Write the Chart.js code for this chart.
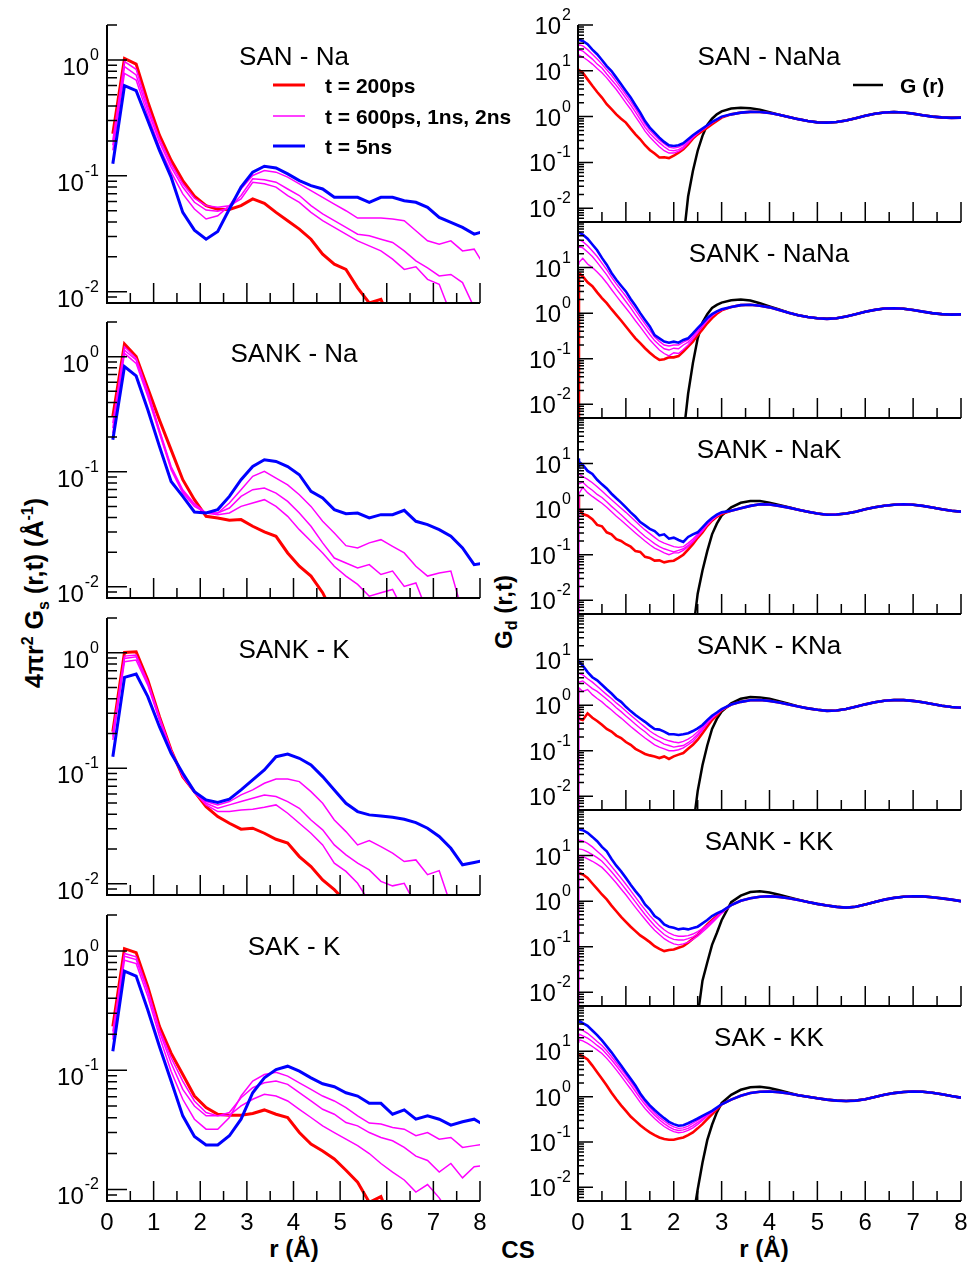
<!DOCTYPE html>
<html>
<head>
<meta charset="utf-8">
<title>CS</title>
<script src="https://cdn.jsdelivr.net/npm/chart.js@4.4.1/dist/chart.umd.min.js"></script>
<style>
  body { margin: 0; background: #fff; }
  #fig { position: relative; width: 972px; height: 1264px; overflow: hidden; background: #fff; }
  #fig canvas { position: absolute; }
  .axt { position: absolute; font: bold 24px "Liberation Sans", Arial, sans-serif; white-space: nowrap; transform: translate(-50%, -50%); line-height: 1; }
  .axt.rot { transform: translate(-50%, -50%) rotate(-90deg); }
  .axt.big { font-size: 25px; }
  .axt sup, .axt sub { font-size: 16px; }
</style>
</head>
<body>
<div id="fig">
  <div class="axt rot big" style="left:36px; top:593px">4&pi;r<sup>2</sup> G<sub>s</sub> (r,t) (&Aring;<sup>-1</sup>)</div>
  <div class="axt rot" style="left:506px; top:612px">G<sub>d</sub> (r,t)</div>
  <div class="axt" style="left:294px; top:1249px">r (&Aring;)</div>
  <div class="axt" style="left:518px; top:1250px">CS</div>
  <div class="axt" style="left:764px; top:1249px">r (&Aring;)</div>
</div>
<script>
// r grids (Å)
const rLeft = [0.125, 0.375, 0.625, 0.875, 1.125, 1.375, 1.625, 1.875, 2.125, 2.375, 2.625, 2.875, 3.125, 3.375, 3.625, 3.875,
  4.125, 4.375, 4.625, 4.875, 5.125, 5.375, 5.625, 5.875, 6.125, 6.375, 6.625, 6.875, 7.125, 7.375, 7.625, 7.875, 8.125];
const rHead = [0, 0.02, 0.1, 0.2, 0.3, 0.4, 0.5, 0.6, 0.7, 0.8, 0.9, 1.0, 1.1, 1.2, 1.3, 1.4, 1.5, 1.6, 1.7, 1.8, 1.9,
  2.0, 2.1, 2.2, 2.3, 2.4, 2.5, 2.6, 2.7, 2.8, 2.9, 3.0];
const rTail = [3.2, 3.4, 3.6, 3.8, 4.0, 4.2, 4.4, 4.6, 4.8, 5.0, 5.2, 5.4, 5.6, 5.8, 6.0, 6.2, 6.4, 6.6, 6.8, 7.0, 7.2, 7.4, 7.6, 7.8, 8.0];

// ---- 4 pi r^2 Gs(r,t) (left column) ----
const sanNa_200ps = [0.231, 1.03, 0.92, 0.435, 0.224, 0.136, 0.091, 0.0667, 0.0553, 0.0514, 0.0513, 0.0553, 0.0632, 0.058, 0.0484, 0.041, 0.0347, 0.0284, 0.0211, 0.0173, 0.0156, 0.0108, 0.008, 0.0086, 0.005, null, null, null, null, null, null, null, null];
const sanNa_600ps = [0.202, 0.967, 0.83, 0.394, 0.209, 0.127, 0.0853, 0.064, 0.0553, 0.0535, 0.0553, 0.0632, 0.0881, 0.0853, 0.080, 0.0676, 0.0591, 0.0484, 0.041, 0.0359, 0.0314, 0.0275, 0.0249, 0.0225, 0.0191, 0.0156, 0.0164, 0.0128, 0.0116, 0.0064, null, null, null];
const sanNa_1ns = [0.183, 0.875, 0.741, 0.368, 0.196, 0.119, 0.080, 0.0591, 0.0507, 0.0494, 0.0528, 0.0676, 0.0942, 0.0923, 0.0881, 0.077, 0.0676, 0.0553, 0.0469, 0.041, 0.0359, 0.0314, 0.0304, 0.0284, 0.0266, 0.0225, 0.0185, 0.0161, 0.0137, 0.0141, 0.012, 0.0073, null];
const sanNa_2ns = [0.166, 0.766, 0.671, 0.334, 0.177, 0.1076, 0.0698, 0.0518, 0.0424, 0.0453, 0.0553, 0.077, 0.1007, 0.111, 0.1076, 0.0974, 0.0853, 0.0746, 0.0653, 0.057, 0.050, 0.0432, 0.0432, 0.0432, 0.0424, 0.041, 0.0336, 0.0275, 0.0257, 0.0275, 0.0225, 0.0233, 0.016];
const sanNa_5ns = [0.127, 0.599, 0.542, 0.30, 0.166, 0.0974, 0.0484, 0.034, 0.0284, 0.0331, 0.0518, 0.080, 0.1076, 0.121, 0.117, 0.104, 0.091, 0.0824, 0.077, 0.0653, 0.0653, 0.0653, 0.0591, 0.0653, 0.0653, 0.061, 0.0591, 0.0535, 0.0438, 0.0397, 0.0359, 0.0314, 0.0336];

const sankNa_200ps = [0.302, 1.288, 1.0, 0.531, 0.282, 0.155, 0.0853, 0.0572, 0.041, 0.0397, 0.0379, 0.0384, 0.0336, 0.030, 0.0275, 0.0197, 0.0151, 0.0124, 0.0089, 0.0056, null, null, null, null, null, null, null, null, null, null, null, null, null];
const sankNa_600ps = [0.264, 1.22, 0.967, 0.497, 0.231, 0.111, 0.0698, 0.0528, 0.0438, 0.0424, 0.0438, 0.050, 0.0535, 0.0572, 0.050, 0.041, 0.0314, 0.0249, 0.0197, 0.0151, 0.0124, 0.0105, 0.0083, 0.0089, 0.0095, 0.006, null, null, null, null, null, null, null];
const sankNa_1ns = [0.239, 1.14, 0.936, 0.481, 0.224, 0.1076, 0.0676, 0.0518, 0.0438, 0.0438, 0.0484, 0.0611, 0.0698, 0.0722, 0.0653, 0.0553, 0.0438, 0.0336, 0.0241, 0.0178, 0.0161, 0.0146, 0.0156, 0.0128, 0.0137, 0.0101, 0.0108, 0.006, null, null, null, null, null];
const sankNa_2ns = [0.216, 1.069, 0.875, 0.45, 0.216, 0.104, 0.0653, 0.050, 0.0438, 0.0438, 0.0535, 0.0698, 0.0912, 0.1007, 0.0881, 0.077, 0.0632, 0.050, 0.0371, 0.0294, 0.0228, 0.0218, 0.0241, 0.0257, 0.0225, 0.0197, 0.0151, 0.0124, 0.0132, 0.0137, 0.006, null, null];
const sankNa_5ns = [0.1895, 0.819, 0.68, 0.345, 0.166, 0.0824, 0.0611, 0.0447, 0.0438, 0.0469, 0.0611, 0.0853, 0.111, 0.127, 0.123, 0.111, 0.0942, 0.0676, 0.0591, 0.0469, 0.0432, 0.0438, 0.0397, 0.0424, 0.0424, 0.0462, 0.0371, 0.0347, 0.0314, 0.0275, 0.0218, 0.0156, 0.0161];

const sankK_200ps = [0.2075, 1.007, 1.02, 0.58, 0.28, 0.144, 0.0847, 0.0628, 0.0466, 0.0382, 0.0334, 0.0297, 0.0303, 0.0274, 0.0243, 0.0225, 0.0172, 0.0141, 0.0108, 0.0089, 0.007, null, null, null, null, null, null, null, null, null, null, null, null];
const sankK_600ps = [0.201, 0.936, 0.955, 0.562, 0.276, 0.144, 0.0847, 0.062, 0.0482, 0.0422, 0.0422, 0.0436, 0.0442, 0.046, 0.0482, 0.0408, 0.0334, 0.0274, 0.0217, 0.0151, 0.0128, 0.0101, 0.007, null, null, null, null, null, null, null, null, null, null];
const sankK_1ns = [0.188, 0.893, 0.923, 0.543, 0.271, 0.142, 0.0864, 0.062, 0.0498, 0.0451, 0.0482, 0.0515, 0.055, 0.0588, 0.0569, 0.0515, 0.0451, 0.0357, 0.0293, 0.0217, 0.0178, 0.0151, 0.0132, 0.0105, 0.0096, 0.0101, 0.0065, null, null, null, null, null, null];
const sankK_2ns = [0.176, 0.836, 0.864, 0.525, 0.262, 0.139, 0.0875, 0.0616, 0.0515, 0.0482, 0.0515, 0.0588, 0.065, 0.0742, 0.0809, 0.0806, 0.0767, 0.0628, 0.0498, 0.0357, 0.0283, 0.0217, 0.0237, 0.021, 0.0184, 0.0156, 0.0161, 0.012, 0.013, 0.0065, null, null, null];
const sankK_5ns = [0.126, 0.612, 0.654, 0.417, 0.229, 0.135, 0.0905, 0.0628, 0.0532, 0.0505, 0.054, 0.065, 0.0793, 0.0968, 0.126, 0.133, 0.122, 0.107, 0.0847, 0.065, 0.0498, 0.0422, 0.0395, 0.0387, 0.0377, 0.0362, 0.0339, 0.0303, 0.0257, 0.0203, 0.0146, 0.0153, 0.0161];

const sakK_200ps = [0.233, 1.045, 0.968, 0.50, 0.233, 0.139, 0.092, 0.0607, 0.0485, 0.0427, 0.0419, 0.0419, 0.0433, 0.0464, 0.0427, 0.0401, 0.030, 0.024, 0.021, 0.018, 0.0145, 0.0115, 0.0078, 0.0087, 0.005, null, null, null, null, null, null, null, null];
const sakK_600ps = [0.211, 0.95, 0.891, 0.47, 0.218, 0.127, 0.081, 0.0552, 0.0441, 0.0414, 0.0419, 0.0501, 0.057, 0.0627, 0.0607, 0.0552, 0.047, 0.0401, 0.0341, 0.030, 0.0264, 0.0233, 0.020, 0.0165, 0.014, 0.012, 0.0095, 0.011, 0.0085, 0.006, null, null, null];
const sakK_1ns = [0.192, 0.903, 0.847, 0.455, 0.211, 0.115, 0.069, 0.0501, 0.0414, 0.0414, 0.0441, 0.0588, 0.0713, 0.0784, 0.081, 0.076, 0.0647, 0.0552, 0.047, 0.0427, 0.0364, 0.0341, 0.030, 0.0273, 0.0256, 0.0225, 0.019, 0.0175, 0.014, 0.0165, 0.0125, 0.0155, 0.016];
const sakK_2ns = [0.18, 0.836, 0.784, 0.414, 0.192, 0.098, 0.057, 0.0388, 0.032, 0.032, 0.0401, 0.0607, 0.081, 0.092, 0.0962, 0.0891, 0.0784, 0.069, 0.0607, 0.0552, 0.0485, 0.0414, 0.036, 0.0353, 0.0331, 0.032, 0.0282, 0.030, 0.0264, 0.0273, 0.0225, 0.0233, 0.024];
const sakK_5ns = [0.144, 0.677, 0.615, 0.32, 0.158, 0.081, 0.0414, 0.0278, 0.0236, 0.0236, 0.0282, 0.0388, 0.0647, 0.0863, 0.1013, 0.108, 0.098, 0.0863, 0.0769, 0.0726, 0.0647, 0.0607, 0.0527, 0.0527, 0.0427, 0.0464, 0.0388, 0.0414, 0.0388, 0.0346, 0.0369, 0.0388, 0.034];

// ---- Gd(r,t) (right column): head on rHead, common tail on rTail, G(r) separately ----
const sanNaNa_200ps = [10.8, 10.8, 9.1, 6.5, 4.7, 3.45, 2.6, 1.86, 1.45, 1.12, 0.90, 0.74, 0.547, 0.41, 0.32, 0.237, 0.187, 0.156, 0.128, 0.13, 0.124, 0.14, 0.164, 0.194, 0.249, 0.331, 0.41, 0.486, 0.575, 0.68, 0.80, 0.95];
const sanNaNa_600ps = [20, 22, 20, 17, 14, 11.2, 9.1, 7.0, 5.2, 3.9, 2.8, 2.0, 1.45, 1.0, 0.7, 0.48, 0.36, 0.28, 0.22, 0.18, 0.16, 0.16, 0.175, 0.205, 0.265, 0.345, 0.43, 0.515, 0.61, 0.73, 0.85, 0.98];
const sanNaNa_1ns = [28, 29, 27, 22, 18, 14, 11.5, 8.5, 6.4, 4.8, 3.5, 2.5, 1.8, 1.25, 0.86, 0.58, 0.43, 0.335, 0.27, 0.22, 0.185, 0.18, 0.19, 0.22, 0.28, 0.355, 0.44, 0.525, 0.625, 0.745, 0.86, 0.99];
const sanNaNa_2ns = [36, 37, 35, 29, 23, 18, 14, 10.5, 8.0, 5.8, 4.2, 3.0, 2.15, 1.5, 1.03, 0.69, 0.5, 0.39, 0.31, 0.255, 0.215, 0.205, 0.215, 0.24, 0.3, 0.37, 0.45, 0.535, 0.635, 0.755, 0.87, 1.0];
const sanNaNa_5ns = [48, 48, 45, 38, 29, 23, 17.2, 12.7, 9.9, 7.1, 5.1, 3.63, 2.6, 1.77, 1.22, 0.80, 0.575, 0.448, 0.348, 0.28, 0.237, 0.229, 0.237, 0.262, 0.32, 0.392, 0.463, 0.547, 0.647, 0.765, 0.875, 1.0];
const sanNaNa_tail = [1.12, 1.22, 1.27, 1.26, 1.2, 1.1, 0.98, 0.88, 0.8, 0.75, 0.74, 0.76, 0.82, 0.92, 1.04, 1.15, 1.23, 1.26, 1.23, 1.16, 1.07, 1.0, 0.96, 0.94, 0.95];
const sanNaNa_grHead = [0.002, 0.018, 0.065, 0.18, 0.38, 0.66, 0.9, 1.12, 1.3];
const sanNaNa_grTail = [1.5, 1.57, 1.53, 1.42, 1.25, 1.1, 0.98, 0.88, 0.8, 0.75, 0.74, 0.76, 0.82, 0.92, 1.04, 1.15, 1.23, 1.26, 1.23, 1.16, 1.07, 1.0, 0.96, 0.94, 0.95];

const sankNaNa_200ps = [0.001, 7.6, 6.4, 4.75, 3.9, 2.86, 2.14, 1.66, 1.22, 0.92, 0.69, 0.51, 0.375, 0.28, 0.22, 0.17, 0.135, 0.11, 0.094, 0.097, 0.107, 0.107, 0.114, 0.143, 0.184, 0.237, 0.33, 0.44, 0.60, 0.78, 0.97, 1.15];
const sankNaNa_600ps = [12, 13, 16, 12, 10, 8.0, 6.2, 4.6, 3.3, 2.4, 1.75, 1.3, 0.95, 0.68, 0.5, 0.36, 0.26, 0.2, 0.155, 0.13, 0.115, 0.135, 0.13, 0.16, 0.2, 0.27, 0.37, 0.5, 0.68, 0.87, 1.04, 1.17];
const sankNaNa_1ns = [28, 29, 27, 22, 17.5, 13, 9.5, 6.9, 4.8, 3.4, 2.5, 1.8, 1.3, 0.92, 0.65, 0.47, 0.34, 0.25, 0.2, 0.165, 0.155, 0.17, 0.165, 0.2, 0.23, 0.3, 0.41, 0.54, 0.72, 0.9, 1.06, 1.19];
const sankNaNa_2ns = [40, 41, 37, 30, 23, 17.5, 12.5, 9.0, 6.2, 4.4, 3.2, 2.35, 1.65, 1.17, 0.82, 0.58, 0.42, 0.3, 0.24, 0.2, 0.19, 0.2, 0.2, 0.23, 0.26, 0.33, 0.44, 0.57, 0.75, 0.93, 1.08, 1.2];
const sankNaNa_5ns = [60, 60, 53, 43, 32, 24, 16.3, 11.6, 7.6, 5.4, 4.0, 3.0, 2.04, 1.45, 1.0, 0.71, 0.51, 0.33, 0.28, 0.237, 0.225, 0.237, 0.225, 0.258, 0.28, 0.36, 0.47, 0.60, 0.78, 0.95, 1.09, 1.22];
const sankNaNa_tail = [1.36, 1.5, 1.53, 1.45, 1.34, 1.17, 1.02, 0.9, 0.82, 0.77, 0.75, 0.77, 0.84, 0.95, 1.07, 1.18, 1.26, 1.28, 1.25, 1.17, 1.08, 1.0, 0.95, 0.93, 0.94];
const sankNaNa_grHead = [0.002, 0.017, 0.08, 0.28, 0.62, 0.95, 1.3, 1.52, 1.7];
const sankNaNa_grTail = [1.92, 1.98, 1.9, 1.65, 1.4, 1.2, 1.02, 0.9, 0.82, 0.77, 0.75, 0.77, 0.84, 0.95, 1.07, 1.18, 1.26, 1.28, 1.25, 1.17, 1.08, 1.0, 0.95, 0.93, 0.94];

const sankNaK_200ps = [2.0, 1.0, 0.78, 0.72, 0.6, 0.45, 0.42, 0.31, 0.28, 0.22, 0.2, 0.17, 0.15, 0.12, 0.115, 0.09, 0.085, 0.074, 0.075, 0.068, 0.072, 0.074, 0.085, 0.1, 0.13, 0.17, 0.235, 0.31, 0.43, 0.56, 0.68, 0.78];
const sankNaK_600ps = [0.001, 2.2, 3.0, 2.3, 1.9, 1.6, 1.35, 1.1, 0.88, 0.7, 0.57, 0.46, 0.37, 0.3, 0.245, 0.2, 0.165, 0.14, 0.125, 0.11, 0.1, 0.11, 0.11, 0.125, 0.15, 0.19, 0.25, 0.33, 0.45, 0.58, 0.7, 0.81];
const sankNaK_1ns = [3.5, 3.5, 3.9, 3.1, 2.6, 2.1, 1.8, 1.45, 1.15, 0.93, 0.75, 0.6, 0.48, 0.39, 0.31, 0.25, 0.21, 0.175, 0.15, 0.135, 0.125, 0.115, 0.125, 0.135, 0.16, 0.2, 0.26, 0.34, 0.46, 0.59, 0.71, 0.82];
const sankNaK_2ns = [6.0, 6.0, 5.2, 4.5, 3.8, 3.1, 2.5, 2.0, 1.6, 1.3, 1.05, 0.85, 0.68, 0.54, 0.43, 0.35, 0.29, 0.24, 0.2, 0.18, 0.165, 0.15, 0.145, 0.15, 0.18, 0.22, 0.28, 0.36, 0.47, 0.6, 0.72, 0.83];
const sankNaK_5ns = [13, 11, 9.4, 6.9, 5.9, 4.4, 3.5, 2.84, 2.18, 1.73, 1.39, 1.09, 0.85, 0.68, 0.52, 0.44, 0.37, 0.33, 0.265, 0.28, 0.225, 0.237, 0.21, 0.19, 0.245, 0.28, 0.31, 0.40, 0.52, 0.64, 0.755, 0.85];
const sankNaK_tail = [0.92, 1.05, 1.18, 1.28, 1.26, 1.18, 1.08, 0.97, 0.88, 0.8, 0.755, 0.76, 0.8, 0.88, 0.99, 1.1, 1.19, 1.25, 1.28, 1.25, 1.18, 1.09, 0.99, 0.92, 0.88];
const sankNaK_grHead = [0.002, 0.014, 0.045, 0.12, 0.28, 0.48, 0.72];
const sankNaK_grTail = [1.1, 1.38, 1.5, 1.5, 1.39, 1.24, 1.1, 0.97, 0.88, 0.8, 0.755, 0.76, 0.8, 0.88, 0.99, 1.1, 1.19, 1.25, 1.28, 1.25, 1.18, 1.09, 0.99, 0.92, 0.88];

const sankKNa_200ps = [0.85, 0.5, 0.47, 0.66, 0.53, 0.45, 0.37, 0.30, 0.263, 0.215, 0.19, 0.155, 0.135, 0.11, 0.097, 0.085, 0.079, 0.075, 0.069, 0.075, 0.066, 0.075, 0.082, 0.089, 0.11, 0.135, 0.174, 0.242, 0.338, 0.47, 0.6, 0.78];
const sankKNa_600ps = [0.001, 2.4, 2.0, 2.2, 1.7, 1.4, 1.18, 0.95, 0.78, 0.63, 0.52, 0.42, 0.34, 0.28, 0.23, 0.19, 0.16, 0.135, 0.12, 0.11, 0.1, 0.1, 0.105, 0.115, 0.135, 0.16, 0.21, 0.28, 0.39, 0.51, 0.63, 0.78];
const sankKNa_1ns = [3.0, 3.2, 3.4, 2.8, 2.3, 2.0, 1.65, 1.35, 1.1, 0.88, 0.72, 0.58, 0.47, 0.38, 0.31, 0.26, 0.21, 0.18, 0.16, 0.14, 0.13, 0.12, 0.125, 0.13, 0.15, 0.18, 0.23, 0.3, 0.41, 0.53, 0.65, 0.79];
const sankKNa_2ns = [5.0, 5.0, 4.6, 3.8, 3.2, 2.6, 2.1, 1.7, 1.4, 1.12, 0.92, 0.74, 0.6, 0.49, 0.4, 0.33, 0.27, 0.23, 0.2, 0.18, 0.165, 0.155, 0.15, 0.16, 0.18, 0.21, 0.26, 0.33, 0.44, 0.56, 0.67, 0.8];
const sankKNa_5ns = [9.5, 9.0, 7.4, 5.3, 4.1, 3.5, 2.8, 2.23, 1.8, 1.4, 1.18, 0.92, 0.74, 0.61, 0.51, 0.43, 0.355, 0.30, 0.29, 0.263, 0.23, 0.23, 0.222, 0.23, 0.242, 0.27, 0.31, 0.367, 0.47, 0.586, 0.69, 0.82];
const sankKNa_tail = [1.03, 1.18, 1.28, 1.3, 1.24, 1.14, 1.03, 0.93, 0.85, 0.79, 0.75, 0.76, 0.82, 0.92, 1.04, 1.16, 1.25, 1.3, 1.29, 1.24, 1.16, 1.06, 0.97, 0.91, 0.875];
const sankKNa_grHead = [0.002, 0.013, 0.048, 0.13, 0.3, 0.5, 0.72];
const sankKNa_grTail = [1.1, 1.38, 1.5, 1.48, 1.38, 1.22, 1.08, 0.94, 0.85, 0.79, 0.75, 0.76, 0.82, 0.92, 1.04, 1.16, 1.25, 1.3, 1.29, 1.24, 1.16, 1.06, 0.97, 0.91, 0.875];

const sankKK_200ps = [4.2, 4.2, 3.84, 3.24, 2.44, 1.86, 1.4, 1.09, 0.80, 0.6, 0.45, 0.35, 0.274, 0.22, 0.177, 0.15, 0.126, 0.103, 0.09, 0.08, 0.085, 0.087, 0.095, 0.103, 0.123, 0.15, 0.186, 0.24, 0.31, 0.384, 0.47, 0.575];
const sankKK_600ps = [0.001, 10, 9.6, 8.5, 7.5, 6.5, 5.5, 4.3, 3.3, 2.5, 1.85, 1.38, 1.0, 0.73, 0.54, 0.4, 0.3, 0.23, 0.185, 0.15, 0.13, 0.115, 0.11, 0.115, 0.125, 0.145, 0.17, 0.21, 0.26, 0.33, 0.42, 0.54];
const sankKK_1ns = [14, 14, 13.5, 12, 10.5, 9.0, 7.5, 5.8, 4.4, 3.3, 2.45, 1.8, 1.32, 0.96, 0.7, 0.51, 0.38, 0.29, 0.23, 0.185, 0.16, 0.145, 0.14, 0.14, 0.15, 0.165, 0.19, 0.23, 0.28, 0.35, 0.44, 0.55];
const sankKK_2ns = [22, 22, 21, 18.5, 15.5, 12.5, 10, 7.8, 5.8, 4.3, 3.2, 2.35, 1.7, 1.22, 0.88, 0.65, 0.48, 0.37, 0.29, 0.235, 0.2, 0.18, 0.17, 0.17, 0.175, 0.19, 0.215, 0.25, 0.3, 0.37, 0.46, 0.56];
const sankKK_5ns = [38, 38, 36, 31.5, 25.7, 20.6, 15.5, 12.4, 8.45, 6.0, 4.5, 3.24, 2.3, 1.66, 1.24, 0.845, 0.66, 0.47, 0.4, 0.31, 0.275, 0.26, 0.24, 0.25, 0.24, 0.256, 0.275, 0.325, 0.384, 0.47, 0.54, 0.60];
const sankKK_tail = [0.82, 1.02, 1.16, 1.25, 1.28, 1.24, 1.16, 1.06, 0.96, 0.87, 0.8, 0.75, 0.72, 0.75, 0.84, 0.96, 1.08, 1.18, 1.25, 1.28, 1.27, 1.22, 1.15, 1.08, 1.0];
const sankKK_grHead = [0.003, 0.018, 0.045, 0.11, 0.2, 0.38];
const sankKK_grTail = [0.95, 1.32, 1.58, 1.65, 1.55, 1.38, 1.22, 1.08, 0.96, 0.87, 0.8, 0.75, 0.72, 0.75, 0.84, 0.96, 1.08, 1.18, 1.25, 1.28, 1.27, 1.22, 1.15, 1.08, 1.0];

const sakKK_200ps = [8.5, 8.5, 7.8, 6.6, 4.85, 3.47, 2.48, 1.77, 1.22, 0.875, 0.645, 0.485, 0.365, 0.293, 0.235, 0.193, 0.163, 0.142, 0.126, 0.116, 0.112, 0.112, 0.12, 0.126, 0.142, 0.163, 0.2, 0.248, 0.319, 0.41, 0.528, 0.68];
const sakKK_600ps = [16, 18, 17, 15, 12.8, 10.8, 9.0, 7.0, 5.3, 3.9, 2.85, 2.05, 1.48, 1.05, 0.75, 0.55, 0.42, 0.33, 0.265, 0.22, 0.19, 0.17, 0.16, 0.165, 0.18, 0.205, 0.245, 0.3, 0.37, 0.45, 0.55, 0.68];
const sakKK_1ns = [22, 24, 22, 19.5, 16.5, 13.5, 11.2, 8.6, 6.5, 4.8, 3.5, 2.55, 1.85, 1.3, 0.92, 0.67, 0.5, 0.39, 0.31, 0.255, 0.215, 0.19, 0.18, 0.185, 0.2, 0.23, 0.27, 0.32, 0.39, 0.46, 0.56, 0.68];
const sakKK_2ns = [30, 32, 29, 25, 20.5, 16.5, 13.5, 10.3, 7.7, 5.6, 4.1, 3.0, 2.15, 1.52, 1.05, 0.76, 0.57, 0.44, 0.35, 0.29, 0.245, 0.215, 0.2, 0.205, 0.225, 0.26, 0.3, 0.35, 0.41, 0.48, 0.57, 0.68];
const sakKK_5ns = [45, 47, 41.7, 36.5, 28.8, 22.8, 17.4, 12.9, 9.5, 6.8, 4.85, 3.47, 2.48, 1.77, 1.18, 0.845, 0.645, 0.51, 0.41, 0.336, 0.279, 0.248, 0.228, 0.235, 0.26, 0.293, 0.33, 0.377, 0.43, 0.486, 0.575, 0.68];
const sakKK_tail = [0.86, 1.05, 1.2, 1.28, 1.3, 1.26, 1.18, 1.08, 1.0, 0.92, 0.86, 0.82, 0.8, 0.82, 0.88, 0.98, 1.1, 1.2, 1.27, 1.3, 1.28, 1.22, 1.13, 1.03, 0.95];
const sakKK_grHead = [0.002, 0.009, 0.035, 0.11, 0.24, 0.45, 0.72];
const sakKK_grTail = [1.1, 1.42, 1.62, 1.65, 1.55, 1.38, 1.22, 1.08, 1.0, 0.92, 0.86, 0.82, 0.8, 0.82, 0.88, 0.98, 1.1, 1.2, 1.27, 1.3, 1.28, 1.22, 1.13, 1.03, 0.95];

const xTicks = [0, 1, 2, 3, 4, 5, 6, 7, 8];

const RED = '#ff0000', MAG = '#ff00ff', BLUE = '#0000ff', BLACK = '#000000';
const FONT = '"Liberation Sans", Arial, sans-serif';

function xy(xs, ys) {
  return ys.map((y, i) => ({ x: xs[i], y: y }));
}
function line(points, color, width) {
  return { data: points, borderColor: color, borderWidth: width, pointRadius: 0, tension: 0, fill: false };
}
function leftSets(r200, r600, r1, r2, r5) {
  return [
    line(xy(rLeft, r5), BLUE, 3),
    line(xy(rLeft, r2), MAG, 1.5),
    line(xy(rLeft, r1), MAG, 1.5),
    line(xy(rLeft, r600), MAG, 1.5),
    line(xy(rLeft, r200), RED, 3)
  ];
}
function rightSets(r200, r600, r1, r2, r5, tail, grHead, grTail) {
  const rAll = rHead.concat(rTail);
  const rGr = rHead.slice(rHead.length - grHead.length).concat(rTail);
  return [
    line(xy(rAll, r5.concat(tail)), BLUE, 2.6),
    line(xy(rAll, r2.concat(tail)), MAG, 1.4),
    line(xy(rAll, r1.concat(tail)), MAG, 1.4),
    line(xy(rAll, r600.concat(tail)), MAG, 1.4),
    line(xy(rAll, r200.concat(tail)), RED, 2.6),
    line(xy(rGr, grHead.concat(grTail)), BLACK, 2.5)
  ];
}

// Grace-like axes: only left and bottom lines, ticks pointing inward
const graceAxes = {
  id: 'graceAxes',
  afterDatasetsDraw(chart, args, o) {
    const ctx = chart.ctx, a = chart.chartArea, xs = chart.scales.x, ys = chart.scales.y;
    ctx.save();
    ctx.strokeStyle = '#000';
    ctx.fillStyle = '#000';
    ctx.lineWidth = 2;
    ctx.beginPath();
    ctx.moveTo(a.left, a.top);
    ctx.lineTo(a.left, a.bottom);
    ctx.lineTo(a.right, a.bottom);
    ctx.stroke();

    ctx.lineWidth = 1.5;
    ctx.beginPath();
    for (let v = 0; v <= 8; v += 0.5) {
      const px = xs.getPixelForValue(v);
      const len = v % 1 === 0 ? 20 : 10;
      ctx.moveTo(px, a.bottom);
      ctx.lineTo(px, a.bottom - len);
    }
    for (let e = -3; e <= 2; e++) {
      for (let m = 1; m <= 9; m++) {
        const v = m * Math.pow(10, e);
        if (v < ys.min * 0.999 || v > ys.max * 1.001) continue;
        const py = ys.getPixelForValue(v);
        ctx.moveTo(a.left, py);
        ctx.lineTo(a.left + (m === 1 ? o.yMajor : o.yMinor), py);
      }
    }
    ctx.stroke();

    // decade labels 10^n
    ctx.textAlign = 'left';
    ctx.textBaseline = 'alphabetic';
    for (let e = -2; e <= o.maxExp; e++) {
      const v = Math.pow(10, e);
      if (v < ys.min || v > ys.max * 1.001) continue;
      const py = ys.getPixelForValue(v);
      const ex = String(e);
      ctx.font = '16px ' + FONT;
      const we = ctx.measureText(ex).width;
      const xEnd = a.left - o.gap;
      ctx.fillText(ex, xEnd - we, py + o.supDy);
      ctx.font = '24px ' + FONT;
      const w10 = ctx.measureText('10').width;
      ctx.fillText('10', xEnd - we - w10 - 1, py + o.baseDy);
    }

    if (o.xLabels) {
      ctx.font = '24px "Liberation Sans Narrow", "Liberation Sans", Arial, sans-serif';
      ctx.textAlign = 'center';
      xTicks.forEach(v => ctx.fillText(String(v), xs.getPixelForValue(v), a.bottom + 29));
    }

    if (o.title) {
      ctx.font = '26px ' + FONT;
      ctx.textAlign = 'center';
      ctx.fillText(o.title, a.left + o.titleDx, a.top + 40);
    }

    if (o.legend) {
      ctx.textAlign = 'left';
      ctx.font = 'bold 21px ' + FONT;
      o.legend.forEach(it => {
        ctx.strokeStyle = it.color;
        ctx.lineWidth = it.width;
        ctx.beginPath();
        ctx.moveTo(a.left + it.x0, a.top + it.y);
        ctx.lineTo(a.left + it.x1, a.top + it.y);
        ctx.stroke();
        ctx.fillText(it.text, a.left + it.tx, a.top + it.y + 7.5);
      });
    }
    ctx.restore();
  }
};

function addPanel(p) {
  const fig = document.getElementById('fig');
  const c = document.createElement('canvas');
  const cl = p.left - p.padL, ct = p.top - 25;
  const cw = p.right + p.padR - cl;
  const ch = p.bottom + (p.axes.xLabels ? 45 : 12) - ct;
  c.width = cw;
  c.height = ch;
  c.style.left = cl + 'px';
  c.style.top = ct + 'px';
  c.style.width = cw + 'px';
  c.style.height = ch + 'px';
  fig.appendChild(c);
  new Chart(c, {
    type: 'line',
    data: { datasets: p.datasets },
    options: {
      responsive: false,
      animation: false,
      devicePixelRatio: 1,
      events: [],
      layout: { padding: { left: p.padL, top: 25, right: p.padR, bottom: ch - 25 - (p.bottom - p.top) } },
      plugins: { legend: { display: false }, tooltip: { enabled: false }, graceAxes: p.axes },
      scales: {
        x: { type: 'linear', min: 0, max: 8, display: false },
        y: { type: 'logarithmic', min: p.yMin, max: p.yMax, display: false }
      }
    },
    plugins: [graceAxes]
  });
}

const leftAxes = { yMajor: 20, yMinor: 10, gap: 8, baseDy: 15, supDy: 0, titleDx: 187, maxExp: 0 };
const rightAxes = { yMajor: 15, yMinor: 6, gap: 7, baseDy: 9, supDy: -5, titleDx: 191 };

const leftPanels = [
  { top: 25, bottom: 303, title: 'SAN - Na', sets: leftSets(sanNa_200ps, sanNa_600ps, sanNa_1ns, sanNa_2ns, sanNa_5ns),
    legend: [
      { color: RED, width: 3, x0: 166, x1: 198, tx: 218, y: 60, text: 't = 200ps' },
      { color: MAG, width: 1.5, x0: 166, x1: 198, tx: 218, y: 91, text: 't = 600ps, 1ns, 2ns' },
      { color: BLUE, width: 3, x0: 166, x1: 198, tx: 218, y: 121, text: 't = 5ns' }
    ] },
  { top: 322, bottom: 598, title: 'SANK - Na', sets: leftSets(sankNa_200ps, sankNa_600ps, sankNa_1ns, sankNa_2ns, sankNa_5ns) },
  { top: 618, bottom: 895, title: 'SANK - K', sets: leftSets(sankK_200ps, sankK_600ps, sankK_1ns, sankK_2ns, sankK_5ns) },
  { top: 915, bottom: 1201, title: 'SAK - K', sets: leftSets(sakK_200ps, sakK_600ps, sakK_1ns, sakK_2ns, sakK_5ns), xLabels: true }
];
leftPanels.forEach(lp => addPanel({
  left: 107, right: 480, top: lp.top, bottom: lp.bottom, padL: 105, padR: 65,
  yMin: 0.008, yMax: 2, datasets: lp.sets,
  axes: Object.assign({}, leftAxes, { title: lp.title, legend: lp.legend, xLabels: !!lp.xLabels })
}));

// only the top right panel labels its 10^2 tick; the others share that edge with the panel above
const rightPanels = [
  { top: 25, bottom: 222, title: 'SAN - NaNa', maxExp: 2,
    sets: rightSets(sanNaNa_200ps, sanNaNa_600ps, sanNaNa_1ns, sanNaNa_2ns, sanNaNa_5ns, sanNaNa_tail, sanNaNa_grHead, sanNaNa_grTail),
    legend: [{ color: BLACK, width: 2.5, x0: 275, x1: 305, tx: 322, y: 60, text: 'G (r)' }] },
  { top: 222, bottom: 418, title: 'SANK - NaNa', maxExp: 1,
    sets: rightSets(sankNaNa_200ps, sankNaNa_600ps, sankNaNa_1ns, sankNaNa_2ns, sankNaNa_5ns, sankNaNa_tail, sankNaNa_grHead, sankNaNa_grTail) },
  { top: 418, bottom: 614, title: 'SANK - NaK', maxExp: 1,
    sets: rightSets(sankNaK_200ps, sankNaK_600ps, sankNaK_1ns, sankNaK_2ns, sankNaK_5ns, sankNaK_tail, sankNaK_grHead, sankNaK_grTail) },
  { top: 614, bottom: 810, title: 'SANK - KNa', maxExp: 1,
    sets: rightSets(sankKNa_200ps, sankKNa_600ps, sankKNa_1ns, sankKNa_2ns, sankKNa_5ns, sankKNa_tail, sankKNa_grHead, sankKNa_grTail) },
  { top: 810, bottom: 1006, title: 'SANK - KK', maxExp: 1,
    sets: rightSets(sankKK_200ps, sankKK_600ps, sankKK_1ns, sankKK_2ns, sankKK_5ns, sankKK_tail, sankKK_grHead, sankKK_grTail) },
  { top: 1006, bottom: 1201, title: 'SAK - KK', maxExp: 1,
    sets: rightSets(sakKK_200ps, sakKK_600ps, sakKK_1ns, sakKK_2ns, sakKK_5ns, sakKK_tail, sakKK_grHead, sakKK_grTail), xLabels: true }
];
rightPanels.forEach(rp => addPanel({
  left: 578, right: 961, top: rp.top, bottom: rp.bottom, padL: 88, padR: 11,
  yMin: 0.005, yMax: 100, datasets: rp.sets,
  axes: Object.assign({}, rightAxes, { title: rp.title, legend: rp.legend, xLabels: !!rp.xLabels, maxExp: rp.maxExp })
}));
</script>
</body>
</html>
